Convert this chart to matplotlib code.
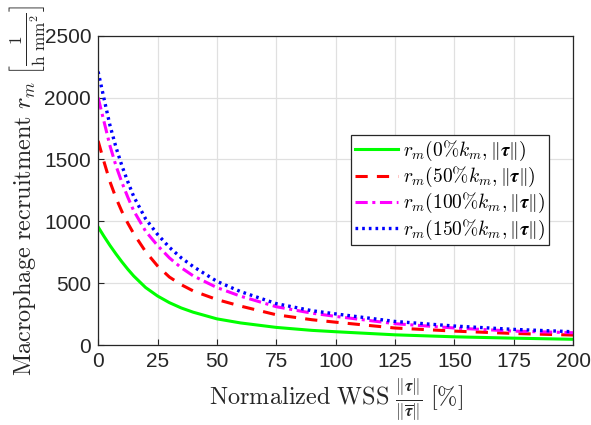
import numpy as np
import matplotlib
matplotlib.use("Agg")
import matplotlib.pyplot as plt

plt.rcParams['mathtext.fontset'] = 'cm'
plt.rcParams['font.family'] = ['Liberation Sans', 'DejaVu Sans']

# normalized WSS [%]
x = [0, 2.5, 5, 7.5, 10, 12.5, 15, 20, 25, 30, 35, 40, 50, 60, 75, 90, 100, 125, 150, 175, 200]

# macrophage recruitment
r_0 = [955, 878, 805, 737, 673, 613, 558, 465, 397, 343, 300, 266, 212, 179, 143, 119, 108, 83, 67, 56, 47]
r_50 = [1650, 1480, 1320, 1190, 1080, 985, 900, 755, 640, 550, 488, 438, 368, 315, 245, 205, 185, 138, 113, 94, 81]
r_100 = [2000, 1805, 1610, 1450, 1315, 1195, 1085, 920, 805, 705, 625, 560, 465, 395, 310, 258, 232, 173, 138, 113, 100]
r_150 = [2210, 1990, 1775, 1600, 1450, 1320, 1200, 1020, 895, 790, 705, 635, 515, 432, 335, 278, 252, 191, 154, 127, 108]

labels = [r"$r_m(0\%k_m, \|\boldsymbol{\tau}\|)$",
          r"$r_m(50\%k_m, \|\boldsymbol{\tau}\|)$",
          r"$r_m(100\%k_m, \|\boldsymbol{\tau}\|)$",
          r"$r_m(150\%k_m, \|\boldsymbol{\tau}\|)$"]

fig = plt.figure(figsize=(5.91, 4.25), dpi=100)
ax = fig.add_axes([0.166, 0.188, 0.804, 0.728])

ax.plot(x, r_0, color='#00ff00', ls='-', lw=2.2, label=labels[0])
ax.plot(x, r_50, color='#ff0000', ls=(0, (4, 3)), lw=2.2, label=labels[1])
ax.plot(x, r_100, color='#ff00ff', ls=(0, (4, 1.5, 1, 1.5)), lw=2.2, label=labels[2])
ax.plot(x, r_150, color='#0000ff', ls=(0, (0.8, 1.2)), lw=2.4, label=labels[3])

ax.set_xlim(0, 200)
ax.set_ylim(0, 2500)
ax.set_xticks(np.arange(0, 201, 25))
ax.set_yticks(np.arange(0, 2501, 500))
ax.grid(True, color='#e0e0e0', lw=0.9)
ax.set_axisbelow(True)
ax.tick_params(direction='in', length=4, labelsize=15, colors='#262626', pad=5)
for s in ax.spines.values():
    s.set_color('#262626')
    s.set_linewidth(0.9)

ax.set_xlabel(r"$\mathrm{Normalized\ WSS}\ \frac{\|\boldsymbol{\tau}\|}{\|\overline{\boldsymbol{\tau}}\|}\ \mathrm{[\%]}$",
              fontsize=17.5, color='#262626', labelpad=4)
ax.set_ylabel(r"$\mathrm{Macrophage\ recruitment}\ r_m\ \left[\frac{1}{\mathrm{h\ mm^2}}\right]$",
              fontsize=17.5, color='#262626', labelpad=-2)

leg = ax.legend(loc='center right', bbox_to_anchor=(0.969, 0.5), fontsize=14,
                fancybox=False, framealpha=1, edgecolor='#262626',
                handlelength=2.2, borderpad=0.2, labelspacing=0.1, handletextpad=0.25)
leg.get_frame().set_linewidth(0.9)

fig.savefig("out.png", dpi=100)
